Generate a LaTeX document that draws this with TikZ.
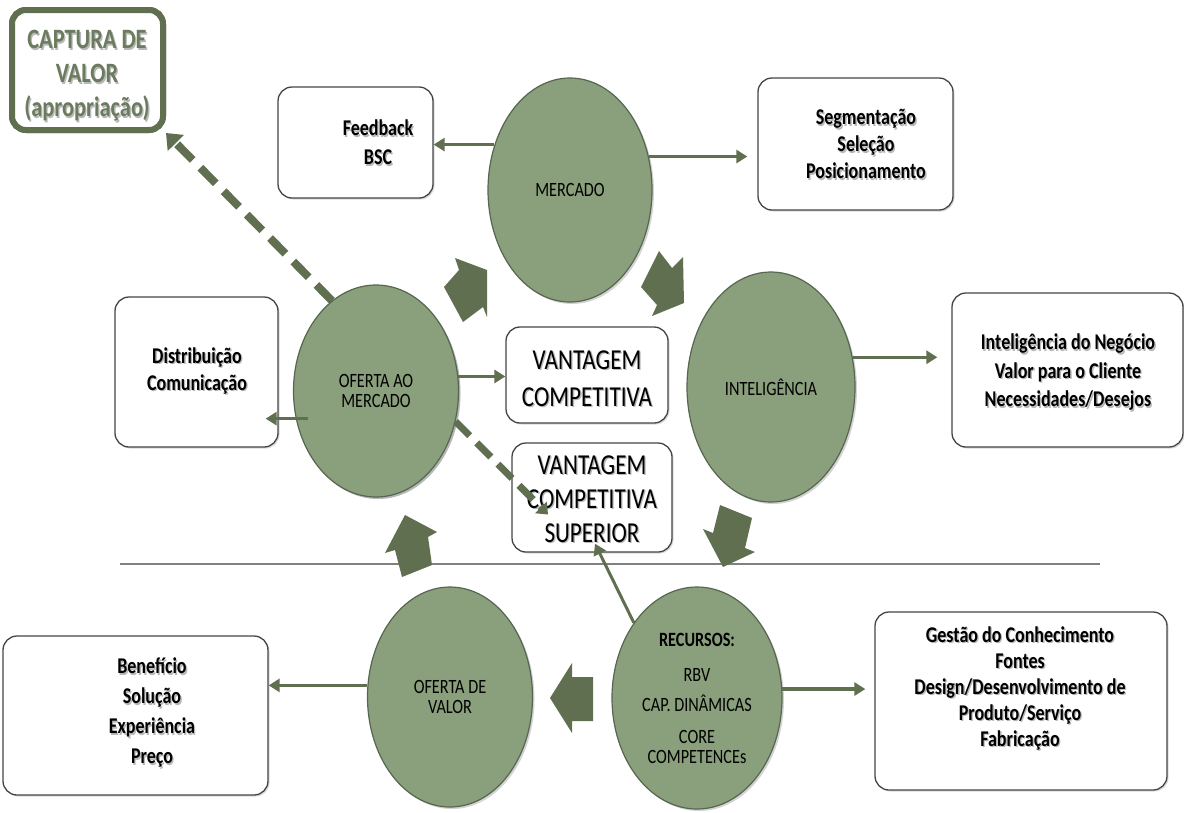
\documentclass[tikz,border=0pt]{standalone}
\usepackage{fontspec}
\setmainfont{Carlito}[FakeStretch=0.8]
\usetikzlibrary{shapes.geometric,arrows.meta,shadows}
\definecolor{ovalfill}{HTML}{8A9F7B}
\definecolor{ovalline}{HTML}{566650}
\definecolor{darkolive}{HTML}{5F6F4F}
\definecolor{capturetext}{HTML}{6A7B5E}
\definecolor{boxline}{HTML}{454545}
\definecolor{rulegray}{HTML}{808080}
% text with a soft grey shadow below and to the right
\newcommand\shtext[3][]{%
  \node[boxtext,#1,text=black!28] at ([xshift=1.3pt,yshift=-1.6pt]#2) {#3};
  \node[boxtext,#1] at (#2) {#3};}
\begin{document}
\begin{tikzpicture}[x=1pt,y=-1pt,
  oval/.style={ellipse, draw=ovalline, line width=1.2pt, fill=ovalfill, inner sep=0pt,
    align=center, font=\fontsize{20.3}{20}\selectfont,
    drop shadow={shadow xshift=2pt,shadow yshift=-2pt,opacity=0.35}},
  box/.style={draw=boxline, line width=1.3pt, rounded corners=14pt, fill=white, inner sep=0pt,
    drop shadow={shadow xshift=1.5pt,shadow yshift=-1.5pt,opacity=0.3}},
  capbox/.style={draw=darkolive, line width=6pt, rounded corners=14pt, fill=white, inner sep=0pt},
  boxtext/.style={align=center, inner sep=0pt},
  link/.style={draw=darkolive, line width=3.5pt, -{Triangle[length=11pt,width=13pt]}},
  dashlink/.style={draw=darkolive, line width=8pt, dash pattern=on 22pt off 11pt,
    -{Triangle[length=14pt,width=22pt]}},
  blockarrow/.style={fill=darkolive, draw=none},
]
\useasboundingbox (0,0) rectangle (1184,812);

% divider between the two halves
\draw[rulegray, line width=2pt] (120,564) -- (1100,564);

% value capture box and its dashed link (the link runs under the box)
\node[capbox, minimum width=151pt, minimum height=120pt] (cap) at (87.5,70) {};
\node[oval, draw=none, fill=none, drop shadow={opacity=0}, minimum width=165pt, minimum height=212pt] (ofm) at (376,391) {};
\draw[dashlink] (ofm.116) -- (cap.south east);
\node[capbox, minimum width=151pt, minimum height=120pt] at (87.5,70) {};
\shtext[text=capturetext, font=\fontsize{28}{34}\selectfont\bfseries]{87,76}
  {CAPTURA DE\\VALOR\\(apropriação)}

% text boxes
\node[box, minimum width=155pt, minimum height=111pt] (fb) at (355.5,142.5) {};
\shtext[font=\fontsize{22.5}{29}\selectfont\bfseries]{378,142.5}{Feedback\\BSC}

\node[box, minimum width=195pt, minimum height=132pt] (seg) at (855.5,144) {};
\shtext[font=\fontsize{22.5}{27}\selectfont\bfseries]{866,144}
  {Segmentação\\Seleção\\Posicionamento}

\node[box, minimum width=163pt, minimum height=150pt] (dist) at (196.5,372) {};
\shtext[font=\fontsize{22.5}{27}\selectfont\bfseries]{197,370.5}
  {Distribuição\\Comunicação}

\node[box, minimum width=231pt, minimum height=154pt] (inb) at (1067.5,370) {};
\shtext[font=\fontsize{22.5}{28.5}\selectfont\bfseries]{1068,372}
  {Inteligência do Negócio\\Valor para o Cliente\\Necessidades/Desejos}

\node[box, minimum width=162pt, minimum height=96pt] (vc) at (587,375) {};
\shtext[font=\fontsize{28.9}{37}\selectfont]{587,378.5}{VANTAGEM\\COMPETITIVA}

\node[box, minimum width=160pt, minimum height=109pt] (vcs) at (592,497.5) {};
\shtext[font=\fontsize{28.9}{34}\selectfont]{592,499}
  {VANTAGEM\\COMPETITIVA\\SUPERIOR}

\node[box, minimum width=265pt, minimum height=159pt] (ben) at (135.5,715.5) {};
\shtext[font=\fontsize{22.5}{30}\selectfont\bfseries]{152,712.5}
  {Benefício\\Solução\\Experiência\\Preço}

\node[box, minimum width=292pt, minimum height=178pt] (gest) at (1021,701) {};
\shtext[font=\fontsize{22.5}{26}\selectfont\bfseries]{1020,688}
  {Gestão do Conhecimento\\Fontes\\Design/Desenvolvimento de\\Produto/Serviço\\Fabricação}

% the five ovals
\node[oval, minimum width=164pt, minimum height=224pt] (merc) at (570,190) {MERCADO};
\node[oval, minimum width=165pt, minimum height=212pt] at (376,391) {OFERTA AO\\MERCADO};
\node[oval, minimum width=168pt, minimum height=230pt] (intel) at (771,387) {INTELIGÊNCIA};
\node[oval, minimum width=165pt, minimum height=220pt] (ofv) at (450,697) {OFERTA DE\\VALOR};
\node[oval, minimum width=170pt, minimum height=222pt] (rec) at (697,698)
  {{\bfseries RECURSOS:}\\[15pt]RBV\\[10pt]CAP. DINÂMICAS\\[12pt]CORE\\COMPETENCEs};

% thin links from the ovals to their boxes
\draw[link] (merc.149) -- (merc.149 -| fb.east);
\draw[link, shorten >=10pt] (merc.23) -- (merc.23 -| seg.west);
\draw[link] ([xshift=12pt]ofm.199) -- ([xshift=-13pt]ofm.199 -| dist.east);
\draw[link] (ofm.10) -- (ofm.10 -| vc.west);
\draw[link, shorten >=14pt] (intel.20) -- (intel.20 -| inb.west);
\draw[link] (ofv.172) -- (ofv.172 -| ben.east);
\draw[link, shorten >=9pt] (rec.6) -- (rec.6 -| gest.west);
\draw[link, line width=3pt] (rec.130) -- ([xshift=3pt,yshift=9pt]vcs.south);

% dashed link towards superior advantage
\draw[dashlink, line width=7pt, dash pattern=on 20pt off 10pt,
  -{Triangle[length=10pt,width=16pt]}] (ofm.-21) -- ([xshift=-44pt,yshift=-17pt]vcs.center);

% block arrows of the cycle
\fill[blockarrow] (455,258) -- (487,270) -- (487,317) -- (483,307) -- (463,322) -- (444,287) -- (459,270) -- cycle;
\fill[blockarrow] (659,251) -- (672,268) -- (683,257) -- (684,303) -- (652,316) -- (657,305) -- (641,287) -- cycle;
\fill[blockarrow] (720,505) -- (752,518) -- (745,548) -- (755,552) -- (723,567) -- (703,529) -- (713,533) -- cycle;
\fill[blockarrow] (405,515) -- (437,532) -- (428,537) -- (432,565) -- (402,577) -- (395,550) -- (385,553) -- cycle;
\fill[blockarrow] (550,698) -- (572,663) -- (572,677) -- (593,677) -- (593,721) -- (572,721) -- (572,733) -- cycle;
\end{tikzpicture}
\end{document}
